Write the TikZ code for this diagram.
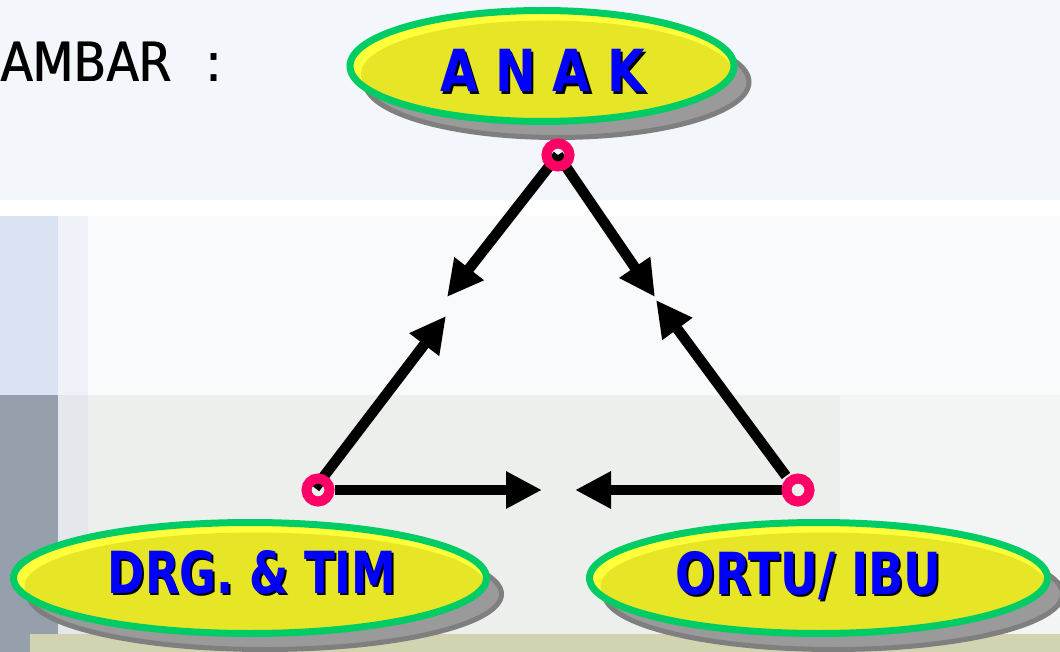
\documentclass[tikz,border=0pt]{standalone}
\usepackage{fontspec}
\setmainfont{DejaVu Sans}
\usepackage{graphicx}
\usetikzlibrary{arrows.meta}
\definecolor{bgtop}{HTML}{F3F6FA}
\definecolor{bgmid}{HTML}{F8FAFC}
\definecolor{stripblue}{HTML}{D9E3F1}
\definecolor{stripmid}{HTML}{EFF2F8}
\definecolor{graybl}{HTML}{96A0AC}
\definecolor{lowA}{HTML}{E4E7EB}
\definecolor{lowB}{HTML}{EDEFEC}
\definecolor{lowC}{HTML}{F2F5F4}
\definecolor{bottomstrip}{HTML}{D2D3B0}
\definecolor{shadowgray}{HTML}{9A9A9A}
\definecolor{shadowdark}{HTML}{7F7F7F}
\definecolor{hiyellow}{HTML}{FFFF3A}
\definecolor{mainyellow}{HTML}{E6E626}
\definecolor{bordergreen}{HTML}{00CC66}
\definecolor{ringpink}{HTML}{FF0066}
\definecolor{lblblue}{HTML}{0000FF}
\pgfdeclarelayer{back}
\pgfdeclarelayer{lines}
\pgfsetlayers{back,lines,main}
\newcommand\bubble[4]{%
  \fill[shadowgray, draw=shadowdark, line width=5pt] (#1+15,#2+16) ellipse [x radius=#3pt, y radius=#4pt];
  \fill[hiyellow] (#1,#2) ellipse [x radius=#3pt, y radius=#4pt];
  \begin{scope}
    \clip (#1,#2) ellipse [x radius=#3pt, y radius=#4pt];
    \fill[mainyellow] (#1+5,#2+8) ellipse [x radius=#3pt-6pt, y radius=#4pt-2pt];
  \end{scope}
  \draw[bordergreen, line width=7pt] (#1,#2) ellipse [x radius=#3pt, y radius=#4pt];
}
\newcommand\shtext[2]{\scalebox{#1}[1]{\makebox[0pt][l]{\hspace{2.5pt}\raisebox{-2.5pt}{\color{black}#2}}{\color{lblblue}#2}}}
\newcommand\thicktext[1]{\makebox[0pt][l]{\hspace{1pt}#1}#1}
\begin{document}
\begin{tikzpicture}[x=1pt,y=-1pt,
  ring/.style={circle, draw=ringpink, line width=10pt, minimum size=23pt, inner sep=0pt},
  conn/.style={line width=10.5pt, black, -{Triangle[length=36pt,width=35pt]}},
  lbl/.style={inner sep=0pt, anchor=base, font=\fontsize{58}{62}\selectfont\bfseries}]
\useasboundingbox (0,0) rectangle (1060,652);
\begin{pgfonlayer}{back}
  % background
  \fill[bgtop] (0,0) rectangle (1060,652);
  \fill[white] (0,200) rectangle (1060,216);
  \fill[stripblue] (0,216) rectangle (58,395);
  \fill[stripmid] (58,216) rectangle (88,395);
  \fill[bgmid] (88,216) rectangle (1060,395);
  \fill[graybl] (0,395) rectangle (58,652);
  \fill[lowA] (58,395) rectangle (88,634);
  \fill[lowB] (88,395) rectangle (840,634);
  \fill[lowC] (840,395) rectangle (1060,634);
  \fill[bottomstrip] (30,634) rectangle (1060,652);
  % bubbles
  \bubble{542}{66}{192}{55.5}
  \bubble{250}{578}{236.5}{55.5}
  \bubble{818.5}{578}{229}{55.5}
\end{pgfonlayer}

% title
\node[anchor=base west, inner sep=0pt] (title) at (0,82)
  {\fontsize{54}{60}\selectfont\scalebox{0.88}[1]{\thicktext{AMBAR\hspace{38pt}:}}};

% labels
\node[lbl] (anak) at (543,92) {\shtext{0.84}{A N A K}};
\node[lbl] (drg) at (252,593) {\shtext{0.775}{DRG. \& TIM}};
\node[lbl] (ortu) at (808.5,594) {\shtext{0.80}{ORTU/ IBU}};

% rings
\node[ring] (top) at (558,155) {};
\node[ring] (left) at (318,490) {};
\node[ring] (right) at (798,490) {};

% arrow tips
\coordinate (ta) at (447,297);
\coordinate (tb) at (655,297);
\coordinate (tc) at (446,316);
\coordinate (td) at (656,300);
\coordinate (te) at (542,490);
\coordinate (tf) at (575,490);

\begin{pgfonlayer}{lines}
  \draw[conn] (top.center) -- (ta);
  \draw[conn] (top.center) -- (tb);
  \draw[conn] ([shift={(-3,-2)}]left.center) -- (tc);
  \draw[conn] ([shift={(-12,-14)}]right.center) -- (td);
  \draw[conn] (left.east) -- (te);
  \draw[conn] (right.west) -- (tf);
\end{pgfonlayer}
\end{tikzpicture}
\end{document}
